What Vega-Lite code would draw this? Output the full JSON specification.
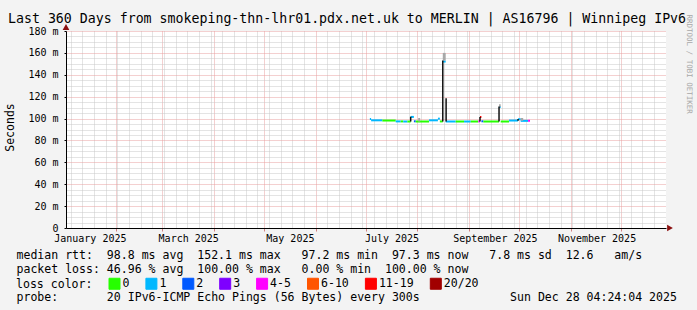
{
"$schema": "https://vega.github.io/schema/vega-lite/v6.json",
"width": 600,
"height": 197,
"autosize": {"type": "none"},
"padding": {"left": 66, "top": 31, "right": 31, "bottom": 82},
"background": "#f3f3f3",
"config": {"view": {"stroke": null, "fill": "#ffffff"}, "font": "DejaVu Sans Mono"},
"title": {"text": "Last 360 Days from smokeping-thn-lhr01.pdx.net.uk to MERLIN | AS16796 | Winnipeg IPv6", "anchor": "start", "frame": "group", "dx": -58, "dy": 12, "font": "DejaVu Sans Mono", "fontSize": 13.25, "fontWeight": "normal", "color": "#000000", "baseline": "alphabetic", "offset": -10},
"datasets": {
"median": [
{"t":"2025-07-03T12:00:00Z","t2":"2025-07-04T06:00:00Z","med":99.6,"loss":"1"},
{"t":"2025-07-04T06:00:00Z","t2":"2025-07-11T00:00:00Z","med":98.4,"loss":"1"},
{"t":"2025-07-11T00:00:00Z","t2":"2025-07-19T00:00:00Z","med":98.2,"loss":"0"},
{"t":"2025-07-19T00:00:00Z","t2":"2025-07-22T00:00:00Z","med":97.4,"loss":"1"},
{"t":"2025-07-22T00:00:00Z","t2":"2025-07-23T12:00:00Z","med":97.4,"loss":"0"},
{"t":"2025-07-23T12:00:00Z","t2":"2025-07-26T00:00:00Z","med":97.3,"loss":"1"},
{"t":"2025-07-26T00:00:00Z","t2":"2025-07-28T00:00:00Z","med":97.3,"loss":"0"},
{"t":"2025-07-28T00:00:00Z","t2":"2025-07-29T22:00:00Z","med":101.5,"loss":"1"},
{"t":"2025-07-29T22:00:00Z","t2":"2025-07-31T00:00:00Z","med":97.5,"loss":"2"},
{"t":"2025-07-31T00:00:00Z","t2":"2025-08-08T00:00:00Z","med":97.3,"loss":"0"},
{"t":"2025-08-08T00:00:00Z","t2":"2025-08-13T08:00:00Z","med":98.4,"loss":"1"},
{"t":"2025-08-13T08:00:00Z","t2":"2025-08-14T12:00:00Z","med":99.9,"loss":"1"},
{"t":"2025-08-14T12:00:00Z","t2":"2025-08-16T06:00:00Z","med":97.4,"loss":"0"},
{"t":"2025-08-16T06:00:00Z","t2":"2025-08-18T00:00:00Z","med":152.1,"loss":"1"},
{"t":"2025-08-18T00:00:00Z","t2":"2025-08-24T00:00:00Z","med":97.3,"loss":"1"},
{"t":"2025-08-24T00:00:00Z","t2":"2025-08-29T00:00:00Z","med":97.3,"loss":"0"},
{"t":"2025-08-29T00:00:00Z","t2":"2025-09-02T00:00:00Z","med":97.3,"loss":"1"},
{"t":"2025-09-02T00:00:00Z","t2":"2025-09-06T14:00:00Z","med":97.3,"loss":"0"},
{"t":"2025-09-06T14:00:00Z","t2":"2025-09-07T14:00:00Z","med":97.4,"loss":"4-5"},
{"t":"2025-09-07T14:00:00Z","t2":"2025-09-08T10:00:00Z","med":101.5,"loss":"11-19"},
{"t":"2025-09-08T10:00:00Z","t2":"2025-09-09T14:00:00Z","med":97.5,"loss":"2"},
{"t":"2025-09-09T14:00:00Z","t2":"2025-09-19T00:00:00Z","med":97.3,"loss":"0"},
{"t":"2025-09-19T00:00:00Z","t2":"2025-09-20T00:00:00Z","med":110.5,"loss":"1"},
{"t":"2025-09-20T00:00:00Z","t2":"2025-09-25T00:00:00Z","med":97.3,"loss":"0"},
{"t":"2025-09-25T00:00:00Z","t2":"2025-09-30T10:00:00Z","med":98.2,"loss":"1"},
{"t":"2025-09-30T10:00:00Z","t2":"2025-10-02T00:00:00Z","med":99.4,"loss":"1"},
{"t":"2025-10-02T00:00:00Z","t2":"2025-10-06T10:00:00Z","med":97.9,"loss":"1"},
{"t":"2025-10-06T10:00:00Z","t2":"2025-10-07T14:00:00Z","med":97.9,"loss":"4-5"}
],
"smoke": [
{"t":"2025-08-01T12:00:00Z","t2":"2025-08-02T16:00:00Z","lo":97.3,"hi":100.5},
{"t":"2025-08-16T06:00:00Z","t2":"2025-08-18T00:00:00Z","lo":153,"hi":160},
{"t":"2025-09-19T00:00:00Z","t2":"2025-09-20T00:00:00Z","lo":110.5,"hi":113},
{"t":"2025-10-02T00:00:00Z","t2":"2025-10-03T12:00:00Z","lo":98,"hi":100.5}
],
"jumps": [
{"t":"2025-07-28T00:00:00Z","lo":97.3,"hi":101.7},
{"t":"2025-08-16T06:00:00Z","lo":97.3,"hi":153},
{"t":"2025-08-18T06:00:00Z","lo":97.3,"hi":118.5},
{"t":"2025-09-07T14:00:00Z","lo":97.3,"hi":101.5},
{"t":"2025-09-19T00:00:00Z","lo":97.3,"hi":111},
{"t":"2025-09-30T10:00:00Z","lo":97.9,"hi":99.5}
],
"xarrow": [{"t":"2025-12-28T04:24:00Z","v":0}],
"yarrow": [{"t":"2025-01-02T04:24:00Z","v":180}]
},
"resolve": {"axis": {"x": "independent", "y": "independent"}},
"layer": [
{
"data": {"name": "median"},
"mark": {"type": "rule", "strokeWidth": 2, "strokeCap": "butt"},
"encoding": {
"x": {"field": "t", "type": "temporal", "scale": {"type": "utc", "domain": [1735791840000, 1766895840000]},
"axis": {
"orient": "bottom",
"values": [1736035200000,1736640000000,1737244800000,1737849600000,1738454400000,1739059200000,1739664000000,1740268800000,1740873600000,1741478400000,1742083200000,1742688000000,1743292800000,1743897600000,1744502400000,1745107200000,1745712000000,1746316800000,1746921600000,1747526400000,1748131200000,1748736000000,1749340800000,1749945600000,1750550400000,1751155200000,1751760000000,1752364800000,1752969600000,1753574400000,1754179200000,1754784000000,1755388800000,1755993600000,1756598400000,1757203200000,1757808000000,1758412800000,1759017600000,1759622400000,1760227200000,1760832000000,1761436800000,1762041600000,1762646400000,1763251200000,1763856000000,1764460800000,1765065600000,1765670400000,1766275200000,
1738368000000,1740787200000,1743465600000,1746057600000,1751328000000,1754006400000,1756684800000,1759276800000,1761955200000,1764547200000,
1737028800000,1742126400000,1747396800000,1752667200000,1758024000000,1763294400000],
"grid": true,
"gridColor": {"condition": [{"test": "utchours(datum.value) == 12", "value": "rgba(0,0,0,0)"}, {"test": "utcdate(datum.value) == 1", "value": "#e8a0a0"}], "value": "#c8c8c8"},
"gridDash": [1, 1],
"tickColor": {"condition": {"test": "utcdate(datum.value) == 1 && utchours(datum.value) == 0", "value": "#d08080"}, "value": "rgba(0,0,0,0)"},
"tickSize": 3,
"labelExpr": "utchours(datum.value) == 12 ? utcFormat(datum.value, '%B %Y') : ''",
"labelOverlap": false, "labelFlush": false, "labelBound": false,
"labelFont": "DejaVu Sans Mono", "labelFontSize": 10, "labelColor": "#000000", "labelPadding": 2, "labelBaseline": "top",
"domainColor": "#000000", "domainWidth": 1,
"title": [
"median rtt:\u00a0\u00a098.8 ms avg\u00a0\u00a0152.1 ms max\u00a0\u00a0\u00a097.2 ms min\u00a0\u00a097.3 ms now\u00a0\u00a0\u00a07.8 ms sd\u00a0\u00a012.6\u00a0\u00a0\u00a0am/s",
"packet loss:\u00a046.96 % avg\u00a0\u00a0100.00 % max\u00a0\u00a0\u00a00.00 % min\u00a0\u00a0100.00 % now"
],
"titleFont": "DejaVu Sans Mono", "titleFontSize": 11.55, "titleFontWeight": "normal", "titleColor": "#000000",
"titleAlign": "left", "titleBaseline": "alphabetic", "titleX": -50, "titleY": 30, "titleLineHeight": 14
}},
"x2": {"field": "t2"},
"y": {"field": "med", "type": "quantitative", "scale": {"domain": [0, 180], "nice": false, "zero": true},
"axis": {
"orient": "left",
"grid": true,
"values": [0,5,10,15,20,25,30,35,40,45,50,55,60,65,70,75,80,85,90,95,100,105,110,115,120,125,130,135,140,145,150,155,160,165,170,175,180],
"gridColor": {"condition": {"test": "datum.value % 20 == 0", "value": "#e8a0a0"}, "value": "#c8c8c8"},
"gridDash": [1, 1],
"tickOpacity": {"condition": {"test": "datum.value % 20 == 0", "value": 1}, "value": 0},
"tickSize": 2, "tickColor": "#000000",
"labelExpr": "datum.value % 20 == 0 ? (datum.value == 0 ? '0' : datum.value + ' m') : ''",
"labelOverlap": false, "labelFlush": false, "labelBound": false,
"labelFont": "DejaVu Sans Mono", "labelFontSize": 10, "labelColor": "#000000", "labelPadding": 6, "labelBaseline": "middle",
"domainColor": "#000000", "domainWidth": 1,
"title": "Seconds", "titleFont": "DejaVu Sans Mono", "titleFontSize": 11.5, "titleFontWeight": "normal", "titleColor": "#000000",
"titleAngle": -90, "titleX": -56, "titleY": 96, "titleAlign": "center", "titleBaseline": "middle"
}},
"color": {"field": "loss", "type": "nominal",
"scale": {"domain": ["0","1","2","3","4-5","6-10","11-19","20/20"], "range": ["#26ff00","#00b8ff","#0059ff","#7e00ff","#ff00ff","#ff5500","#ff0000","#a10000"]},
"legend": {"orient": "none", "legendX": -50, "legendY": 246.5, "direction": "horizontal", "title": "loss color:", "titleOrient": "left", "titlePadding": 15.5, "titleFont": "DejaVu Sans Mono", "titleFontSize": 11.55, "titleFontWeight": "normal", "titleColor": "#000000", "titleBaseline": "middle", "columns": 8, "columnPadding": 13.9, "labelOffset": 2, "symbolType": "square", "symbolSize": 121, "labelFont": "DejaVu Sans Mono", "labelFontSize": 11.55, "labelColor": "#000000", "padding": 0, "labelLimit": 200,
"encode": {"symbols": {"update": {"fill": {"scale": "color", "field": "value"}, "stroke": {"value": "#000000"}, "strokeWidth": {"value": 1}, "opacity": {"value": 1}}}}}
}
}
},
{
"data": {"name": "smoke"},
"mark": {"type": "rect", "color": "#a8a8a8"},
"encoding": {
"x": {"field": "t", "type": "temporal", "scale": {"type": "utc", "domain": [1735791840000, 1766895840000]},
"axis": {"orient": "bottom", "labels": false, "ticks": false, "domain": false, "grid": false,
"title": "probe:\u00a0\u00a0\u00a0\u00a0\u00a0\u00a0\u00a020 IPv6-ICMP Echo Pings (56 Bytes) every 300s\u00a0\u00a0\u00a0\u00a0\u00a0\u00a0\u00a0\u00a0\u00a0\u00a0\u00a0\u00a0\u00a0Sun Dec 28 04:24:04 2025",
"titleFont": "DejaVu Sans Mono", "titleFontSize": 11.55, "titleFontWeight": "normal", "titleColor": "#000000",
"titleAlign": "left", "titleBaseline": "alphabetic", "titleX": -50, "titleY": 72.5}},
"x2": {"field": "t2"},
"y": {"field": "lo", "type": "quantitative", "scale": {"domain": [0, 180], "nice": false, "zero": true}, "axis": null},
"y2": {"field": "hi"}
}
},
{
"data": {"name": "jumps"},
"mark": {"type": "rule", "color": "#111111", "strokeWidth": 1.5},
"encoding": {
"x": {"field": "t", "type": "temporal", "scale": {"type": "utc", "domain": [1735791840000, 1766895840000]}, "axis": null},
"y": {"field": "lo", "type": "quantitative", "scale": {"domain": [0, 180], "nice": false, "zero": true},
"axis": {"orient": "right", "title": "RRDTOOL / TOBI OETIKER", "labels": false, "ticks": false, "domain": false, "grid": false, "titleFont": "DejaVu Sans Mono", "titleFontSize": 7.5, "titleFontWeight": "normal", "titleColor": "#a8a8a8", "titleAngle": 90, "titleX": 22, "titleY": -17, "titleAlign": "left", "titleBaseline": "middle"}},
"y2": {"field": "hi"}
}
},
{
"data": {"name": "xarrow"},
"mark": {"type": "point", "shape": "triangle-right", "size": 45, "filled": true, "color": "#8b1010", "opacity": 1, "xOffset": 4},
"encoding": {
"x": {"field": "t", "type": "temporal", "scale": {"type": "utc", "domain": [1735791840000, 1766895840000]}, "axis": null},
"y": {"field": "v", "type": "quantitative", "scale": {"domain": [0, 180], "nice": false, "zero": true}, "axis": null}
}
},
{
"data": {"name": "yarrow"},
"mark": {"type": "point", "shape": "triangle-up", "size": 45, "filled": true, "color": "#8b1010", "opacity": 1, "yOffset": -4},
"encoding": {
"x": {"field": "t", "type": "temporal", "scale": {"type": "utc", "domain": [1735791840000, 1766895840000]}, "axis": null},
"y": {"field": "v", "type": "quantitative", "scale": {"domain": [0, 180], "nice": false, "zero": true}, "axis": null}
}
}
]
}
